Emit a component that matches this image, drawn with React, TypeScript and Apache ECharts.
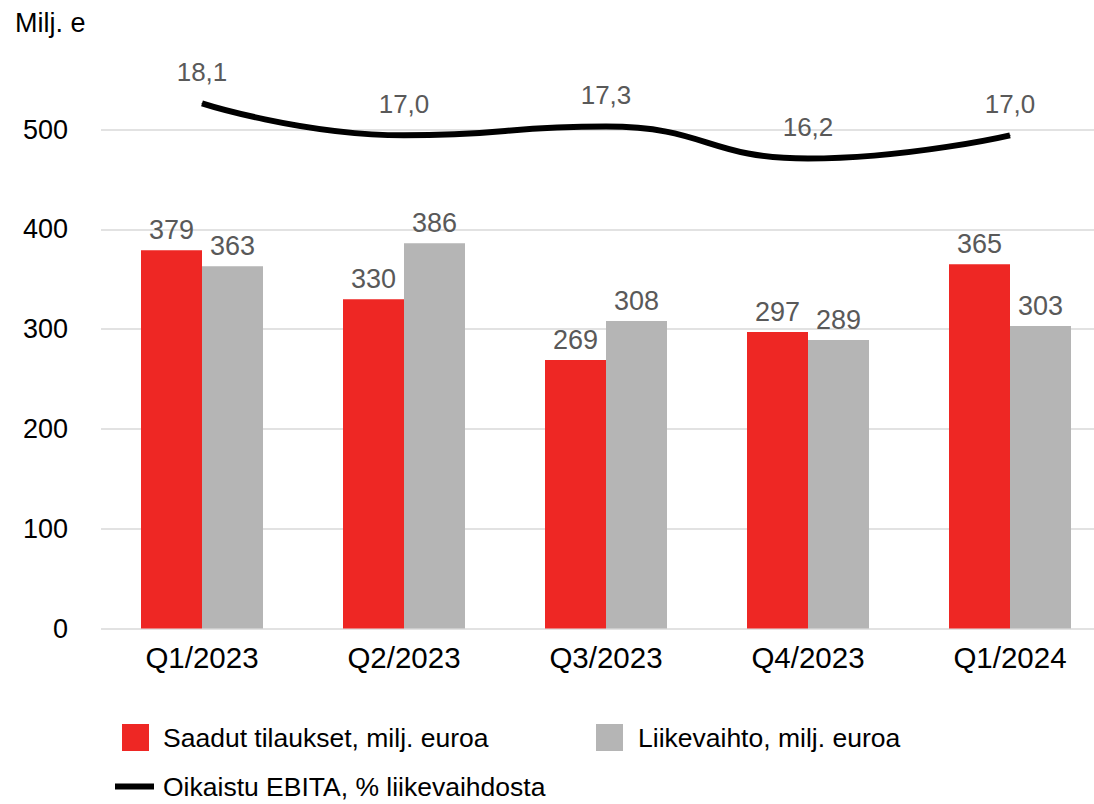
import React, { useEffect, useRef } from "react";
import * as echarts from "echarts";

const categories = ["Q1/2023", "Q2/2023", "Q3/2023", "Q4/2023", "Q1/2024"];
const orders = [379, 330, 269, 297, 365];
const revenue = [363, 386, 308, 289, 303];
const ebita = [18.1, 17.0, 17.3, 16.2, 17.0];
const yTicks = { min: 0, max: 500, interval: 100 };

const NAME_ORDERS = "Saadut tilaukset, milj. euroa";
const NAME_REVENUE = "Liikevaihto, milj. euroa";
const NAME_EBITA = "Oikaistu EBITA, % liikevaihdosta";

const FONT = "'Liberation Sans', Arial, sans-serif";

export default function App() {
  const ref = useRef<HTMLDivElement>(null);
  useEffect(() => {
    if (!ref.current) return;
    const chart = echarts.init(ref.current, null, { renderer: "svg" });
    chart.setOption({
      animation: false,
      textStyle: { fontFamily: FONT },
      title: {
        text: "Milj. e",
        left: 15,
        top: 9,
        padding: 0,
        textStyle: { fontFamily: FONT, fontSize: 27, fontWeight: "normal", color: "#000" },
      },
      grid: {
        left: 101,
        top: 129.5,
        width: 1010,
        height: 499,
        containLabel: false,
        outerBoundsMode: "none",
      },
      legend: [
        {
          data: [NAME_ORDERS],
          left: 122,
          top: 724,
          padding: 0,
          icon: "rect",
          itemWidth: 27,
          itemHeight: 27,
          selectedMode: false,
          textStyle: { fontFamily: FONT, fontSize: 26.5, color: "#000", padding: [0, 0, 0, 9] },
        },
        {
          data: [NAME_REVENUE],
          left: 596,
          top: 724,
          padding: 0,
          icon: "rect",
          itemWidth: 27,
          itemHeight: 27,
          selectedMode: false,
          textStyle: { fontFamily: FONT, fontSize: 26.5, color: "#000", padding: [0, 0, 0, 10] },
        },
        {
          data: [NAME_EBITA],
          left: 115,
          top: 773,
          padding: 0,
          icon: "rect",
          itemWidth: 39,
          itemHeight: 6,
          selectedMode: false,
          textStyle: { fontFamily: FONT, fontSize: 26.5, color: "#000", padding: [0, 0, 0, 4] },
        },
      ],
      xAxis: {
        type: "category",
        data: categories,
        axisLine: { show: false },
        axisTick: { show: false },
        axisLabel: { fontFamily: FONT, fontSize: 29.5, color: "#000", margin: 14 },
      },
      yAxis: [
        {
          type: "value",
          min: yTicks.min,
          max: yTicks.max,
          interval: yTicks.interval,
          axisLine: { show: false },
          axisTick: { show: false },
          axisLabel: { fontFamily: FONT, fontSize: 27, color: "#000", margin: 33 },
          splitLine: { lineStyle: { color: "#E2E2E2", width: 2 } },
        },
        {
          type: "value",
          min: 0,
          max: 17.2,
          show: false,
          splitLine: { show: false },
        },
      ],
      series: [
        {
          name: NAME_ORDERS,
          type: "bar",
          data: orders,
          barWidth: 61,
          barGap: "0%",
          itemStyle: { color: "#EE2724" },
          label: {
            show: true,
            position: "top",
            distance: 7,
            fontFamily: FONT,
            fontSize: 27,
            color: "#595959",
          },
        },
        {
          name: NAME_REVENUE,
          type: "bar",
          data: revenue,
          barWidth: 61,
          barGap: "0%",
          itemStyle: { color: "#B5B5B5" },
          label: {
            show: true,
            position: "top",
            distance: 7,
            fontFamily: FONT,
            fontSize: 27,
            color: "#595959",
          },
        },
        {
          name: NAME_EBITA,
          type: "line",
          yAxisIndex: 1,
          data: ebita,
          smooth: 0.5,
          clip: false,
          symbol: "circle",
          symbolSize: 1,
          itemStyle: { color: "#000" },
          lineStyle: { color: "#000", width: 6 },
          label: {
            show: true,
            position: "top",
            distance: 18,
            fontFamily: FONT,
            fontSize: 26,
            color: "#595959",
            formatter: (p: any) => Number(p.value).toFixed(1).replace(".", ","),
          },
        },
      ],
    });
    return () => chart.dispose();
  }, []);
  return (
    <div
      ref={ref}
      style={{ position: "absolute", left: 0, top: 0, width: 1094, height: 804 }}
    />
  );
}
